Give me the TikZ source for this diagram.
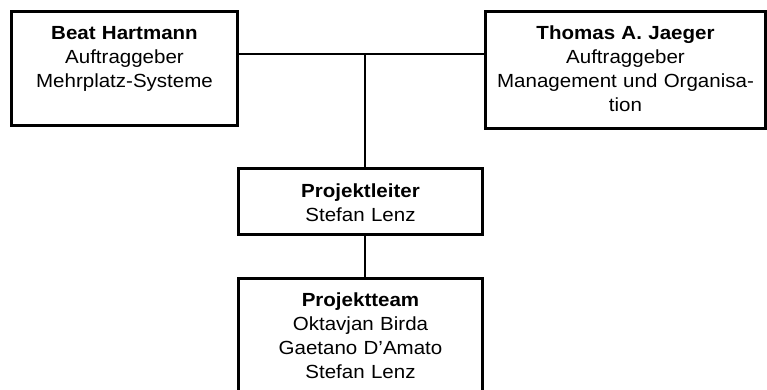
\documentclass[tikz,border=0pt]{standalone}
\usepackage{fontspec}
\setmainfont{Liberation Sans}[FakeStretch=1.08]
\usetikzlibrary{positioning}

\begin{document}
\begin{tikzpicture}[x=1pt, y=-1pt,
    orgbox/.style={draw, line width=3pt, inner sep=0pt, outer sep=0pt, anchor=north west,
      align=center, font=\fontsize{19}{24}\selectfont},
    orgline/.style={line width=1.8pt}]
      \useasboundingbox (0,0) rectangle (767,389);

      \node[orgbox, text width=226pt, text height=27.5pt, text depth=86.5pt] (hartmann) at (11.5,11.5)
        {\textbf{Beat Hartmann}\\Auftraggeber\\Mehrplatz-Systeme};
      \node[orgbox, text width=280pt, text height=27.5pt, text depth=89pt] (jaeger) at (485.5,11.5)
        {\textbf{Thomas A. Jaeger}\\Auftraggeber\\Management und Organisa-\\tion};

      \node[orgbox, text width=244pt, text height=29.7pt, text depth=36.3pt] (leiter) at (238.5,168)
        {\textbf{Projektleiter}\\Stefan Lenz};
      \node[orgbox, text width=244pt, text height=28.2pt, text depth=100pt] (team) at (238.5,278.5)
        {\textbf{Projektteam}\\Oktavjan Birda\\Gaetano D’Amato\\Stefan Lenz};

      \coordinate (junction) at (365,54);
      \draw[orgline] (hartmann.east |- junction) -- (jaeger.west |- junction);
      \draw[orgline] (junction) -- (junction |- leiter.north);
      \draw[orgline] (junction |- leiter.south) -- (junction |- team.north);
    \end{tikzpicture}
\end{document}
